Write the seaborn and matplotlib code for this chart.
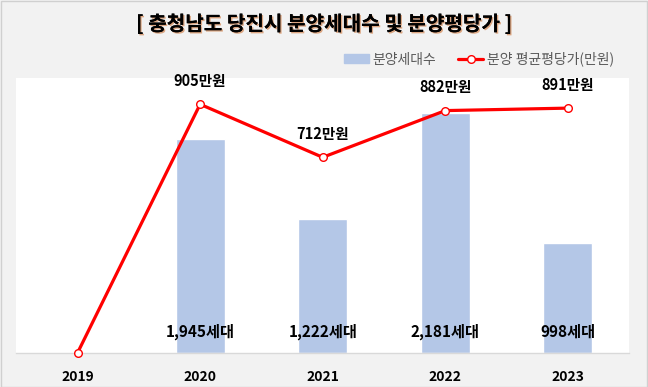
import matplotlib
matplotlib.use("Agg")
import matplotlib.pyplot as plt
import matplotlib.patheffects as pe
import seaborn as sns
import numpy as np

years = ["2019", "2020", "2021", "2022", "2023"]
bar_years = ["2020", "2021", "2022", "2023"]
units = [1945, 1222, 2181, 998]
price = [0, 905, 712, 882, 891]

sns.set_theme(style="white")
plt.rcParams["font.family"] = ["Noto Sans CJK KR", "DejaVu Sans"]

bg = "#f2f2f2"
fig = plt.figure(figsize=(6.48, 3.87), dpi=100, facecolor=bg)
ax = fig.add_axes([0.025, 0.088, 0.946, 0.71])
ax.set_facecolor("white")

sns.barplot(x=bar_years, y=units, order=years, color="#b4c7e7", width=0.4,
            saturation=1, ax=ax)
ax.set_xlim(-0.5, 4.5)
ax.set_ylim(0, 2500)
ax.set_yticks([])
ax.set_xlabel("")
ax.set_ylabel("")
ax.tick_params(axis="x", length=0, pad=12)
for lab in ax.get_xticklabels():
    lab.set_fontweight("bold")
    lab.set_fontsize(10)
    lab.set_color("black")
for s in ["top", "left", "right"]:
    ax.spines[s].set_visible(False)
ax.spines["bottom"].set_color("#d9d9d9")
ax.spines["bottom"].set_linewidth(1)

for yr, v in zip(bar_years, units):
    ax.annotate(f"{v:,}세대", (years.index(yr), 0), xytext=(0, 15),
                textcoords="offset points", ha="center", va="center",
                fontsize=11, fontweight="bold", color="black")

ax2 = ax.twinx()
xs = np.arange(len(years))
sns.lineplot(x=xs, y=price, color="#ff0000", linewidth=2.3, marker="o",
             markersize=5.5, markerfacecolor="white", markeredgecolor="#ff0000",
             markeredgewidth=1, ax=ax2, clip_on=False)
ax2.set_ylim(0, 1000)
ax2.set_yticks([])
ax2.set_xlim(-0.5, 4.5)
for s in ax2.spines.values():
    s.set_visible(False)
for x, v in zip(xs, price):
    if v > 0:
        ax2.annotate(f"{v}만원", (x, v), xytext=(0, 17),
                     textcoords="offset points", ha="center", va="center",
                     fontsize=10.5, fontweight="bold", color="black")

fig.text(0.5, 0.938, "[ 충청남도 당진시 분양세대수 및 분양평당가 ]", ha="center",
         va="center", fontsize=14.5, fontweight="bold", color="black",
         path_effects=[pe.withSimplePatchShadow(offset=(1, -1),
                                                shadow_rgbFace="#c55a11",
                                                alpha=0.5),
                       pe.Normal()])

# legend
handles = [plt.Rectangle((0, 0), 1, 1, color="#b4c7e7"),
           plt.Line2D([0], [0], color="#ff0000", linewidth=2.3, marker="o",
                      markersize=5.5, markerfacecolor="white",
                      markeredgecolor="#ff0000")]
leg = fig.legend(handles, ["분양세대수", "분양 평균평당가(만원)"], loc="center right",
                 bbox_to_anchor=(0.947, 0.847), ncol=2, frameon=False,
                 fontsize=10, handlelength=1.8, handleheight=0.6,
                 columnspacing=1.6, handletextpad=0.25, borderaxespad=0,
                 borderpad=0)
for t in leg.get_texts():
    t.set_color("#595959")

fig.patches.append(plt.Rectangle((0.001, 0.001), 0.997, 0.997,
                                 transform=fig.transFigure, fill=False,
                                 edgecolor="#d0d0d0", linewidth=1))

fig.savefig("out.png", dpi=100, facecolor=bg)
